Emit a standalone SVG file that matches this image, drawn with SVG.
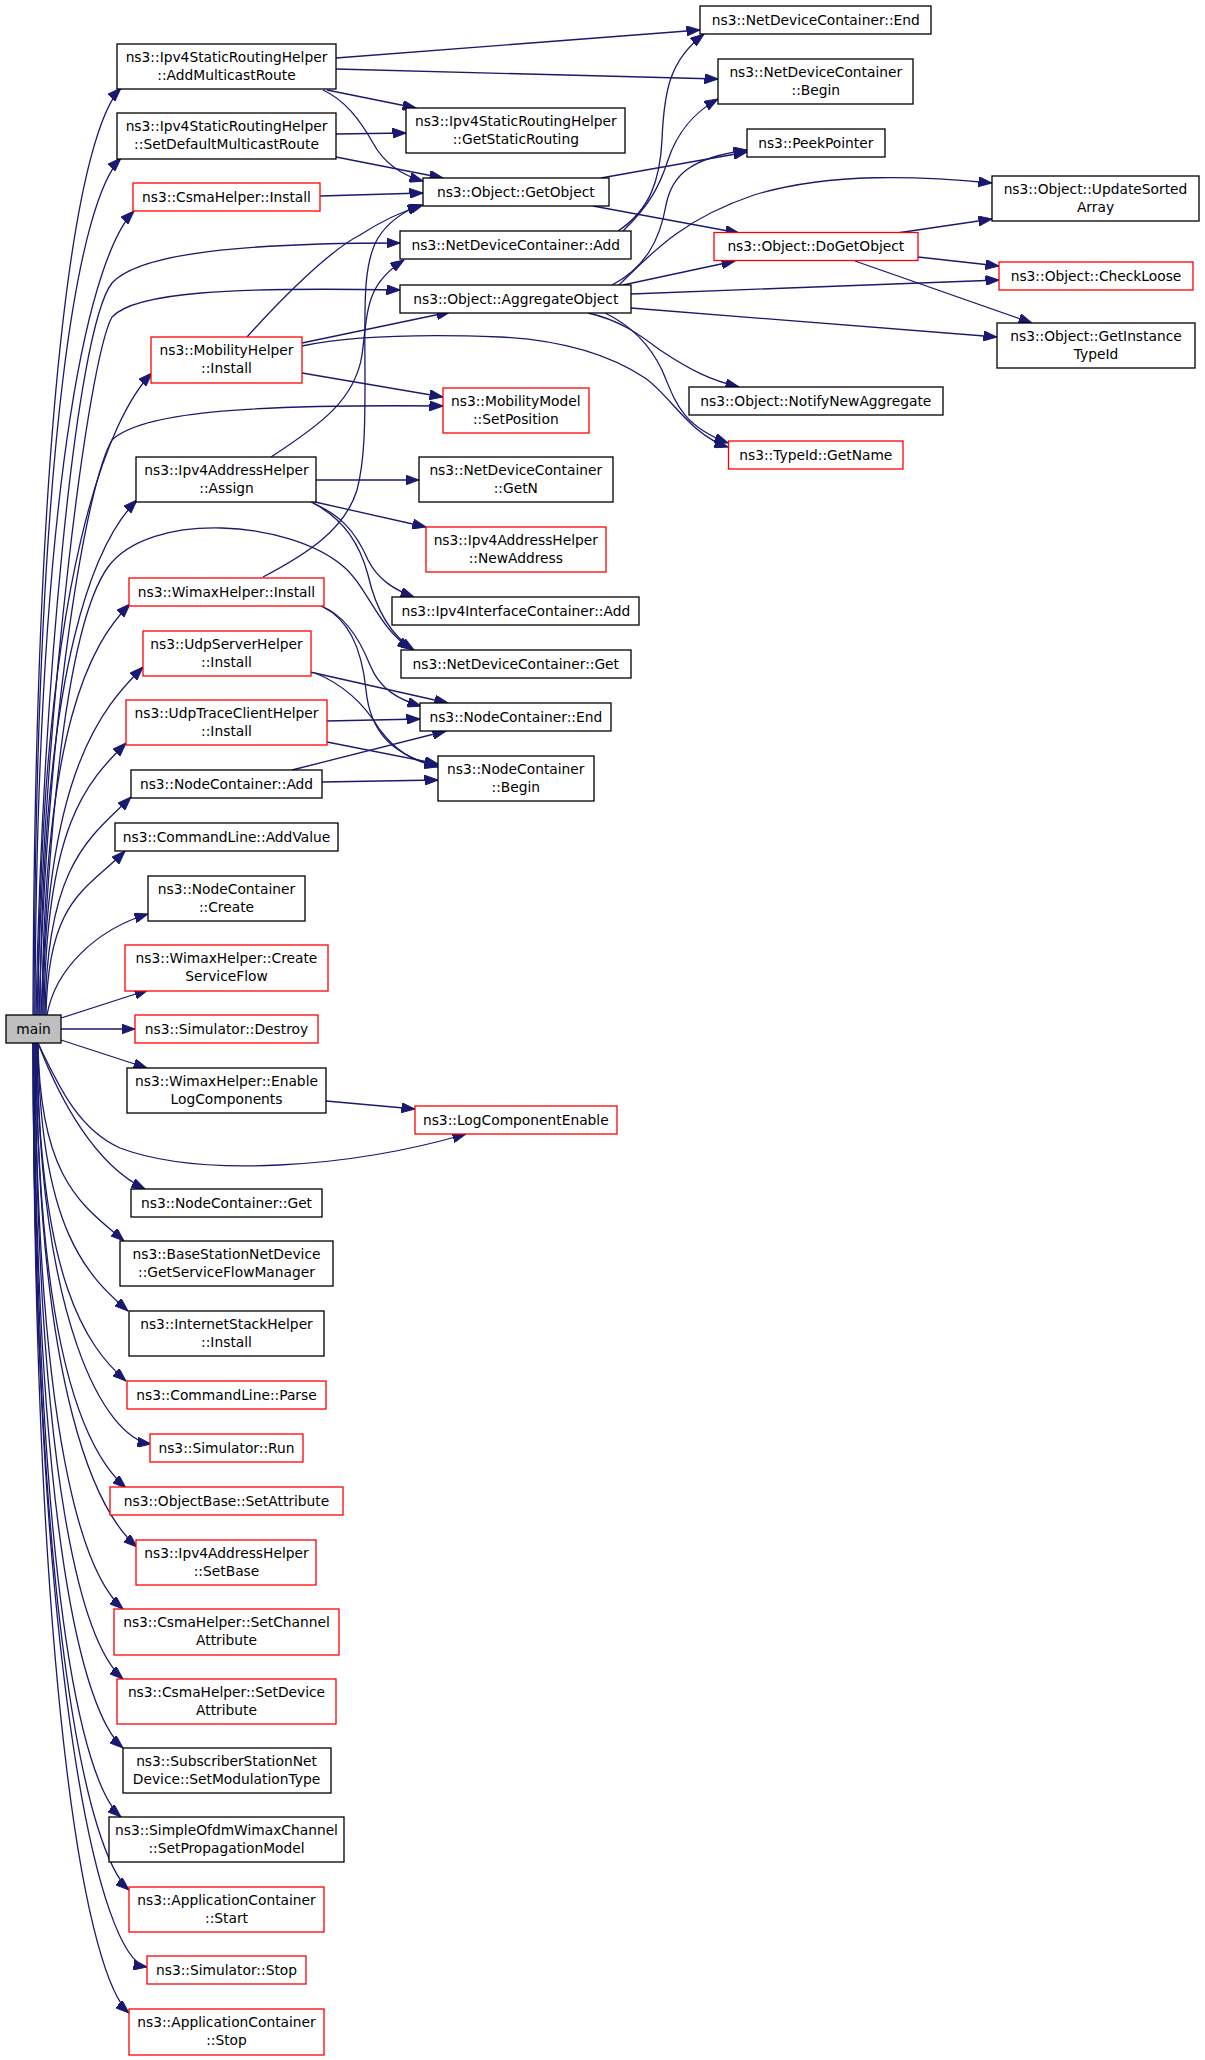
<svg xmlns="http://www.w3.org/2000/svg" width="1205" height="2060" viewBox="0 0 1205 2060">
<style>
.n rect{fill:#fff;stroke:#000;stroke-width:1.3}
.n.r rect{stroke:#f00}
.n.m rect{fill:#bfbfbf}
text{font-family:"DejaVu Sans","Liberation Sans",sans-serif;font-size:13.8px;text-anchor:middle;fill:#000}
#edges path{fill:none;stroke:#191970;stroke-width:1.3;marker-end:url(#a)}
</style>
<defs>
<marker id="a" markerWidth="14" markerHeight="10" refX="13.5" refY="5" orient="auto" markerUnits="userSpaceOnUse"><path d="M0,0 L13.5,5 L0,10 z" fill="#191970" stroke="#191970" stroke-width="1"/></marker>
</defs>
<rect x="0" y="0" width="1205" height="2060" fill="#fff"/>
<g id="edges">
<!-- main upward -->
<path d="M33,1015 C35,366 81,128 121,88"/>
<path d="M34,1015 C36,415 81,198 121,158"/>
<path d="M35,1015 C37,452 94,251 134,211"/>
<path d="M36,1015 C42,700 75,330 112,283 C140,252 250,243 400,243"/>
<path d="M37,1015 C45,700 88,360 112,317 C135,292 230,287 400,290"/>
<path d="M38,1015 C40,566 112,413 152,373"/>
<path d="M39,1015 C48,700 88,480 112,440 C140,413 240,404 443,406"/>
<path d="M40,1015 C42,655 97,540 137,500"/>
<path d="M41,1015 C50,800 70,620 108,567 C150,510 290,520 344,567 C368,588 378,628 411,649"/>
<path d="M42,1015 C44,727 90,644 130,604"/>
<path d="M43,1015 C45,771 103,707 143,667"/>
<path d="M44,1015 C46,825 86,783 126,743"/>
<path d="M45,1015 C47,862 91,837 131,797"/>
<path d="M46,1015 C48,900 85,891 125,851"/>
<path d="M47,1015 C55,970 95,930 148,914"/>
<!-- main right -->
<path d="M61,1018 L148,990"/>
<path d="M61,1029 L135,1029"/>
<path d="M61,1040 L147,1068"/>
<path d="M38,1043 C60,1090 80,1130 120,1148 C200,1178 350,1168 466,1134"/>
<!-- main downward -->
<path d="M38,1043 C60,1100 95,1165 145,1189"/>
<path d="M38,1043 C40,1182 84,1206 124,1241"/>
<path d="M38,1043 C40,1231 88,1276 128,1311"/>
<path d="M37,1043 C39,1280 86,1346 126,1381"/>
<path d="M37,1043 C39,1324 105,1438 151,1444"/>
<path d="M36,1043 C38,1354 86,1453 126,1488"/>
<path d="M36,1043 C38,1396 97,1512 137,1547"/>
<path d="M35,1043 C37,1439 83,1574 123,1609"/>
<path d="M35,1043 C37,1488 83,1644 123,1679"/>
<path d="M34,1043 C36,1537 83,1713 123,1748"/>
<path d="M34,1043 C36,1585 81,1782 121,1817"/>
<path d="M33,1043 C35,1636 89,1855 129,1890"/>
<path d="M33,1043 C35,1690 100,1960 147,1967"/>
<path d="M33,1043 C35,1722 89,1978 129,2013"/>
<!-- AddMulticastRoute -->
<path d="M336,58 L700,30"/>
<path d="M336,69 L718,79"/>
<path d="M327,90 L416,108"/>
<path d="M323,90 C345,100 360,120 373,143 C385,165 405,176 423,181"/>
<!-- SetDefaultMulticastRoute -->
<path d="M336,134 L406,133"/>
<path d="M336,157 L443,178"/>
<!-- CsmaHelper::Install -->
<path d="M320,196 L423,193"/>
<!-- MobilityHelper::Install -->
<path d="M247,337 C280,300 330,250 360,235 C380,222 400,212 423,205"/>
<path d="M302,343 L450,312"/>
<path d="M302,346 C350,336 420,334 500,337 C560,340 610,355 645,378 C670,395 690,435 728,447"/>
<path d="M302,373 L443,397"/>
<!-- Assign -->
<path d="M271,457 C320,425 355,400 362,355 C368,310 365,285 404,260"/>
<path d="M316,480 L419,480"/>
<path d="M315,502 L426,527"/>
<path d="M311,502 C340,515 355,530 368,560 C378,580 395,590 414,597"/>
<path d="M313,503 C345,520 360,545 368,575 C376,610 390,635 414,650"/>
<!-- WimaxHelper::Install -->
<path d="M263,577 C305,555 345,530 357,490 C365,460 365,420 365,380 C365,310 362,265 378,238 C388,222 402,212 421,205"/>
<path d="M321,606 C345,615 360,640 370,665 C380,690 400,700 421,706"/>
<path d="M323,607 C350,620 362,650 366,690 C370,730 390,755 438,766"/>
<!-- UdpServerHelper -->
<path d="M310,672 L448,703"/>
<path d="M315,673 C345,685 365,705 380,730 C395,750 410,760 438,767"/>
<!-- UdpTraceClientHelper -->
<path d="M327,721 L420,719"/>
<path d="M327,742 L438,764"/>
<!-- NodeContainer::Add -->
<path d="M292,770 L446,731"/>
<path d="M322,782 L438,780"/>
<!-- EnableLogComponents -->
<path d="M326,1101 L415,1109"/>
<!-- GetObject -->
<path d="M601,178 L747,152"/>
<path d="M593,206 L739,233"/>
<!-- NetDeviceContainer::Add -->
<path d="M618,231 C650,210 660,180 662,140 C664,90 670,60 704,34"/>
<path d="M623,231 C650,205 660,185 668,160 C678,130 695,112 718,99"/>
<!-- AggregateObject -->
<path d="M612,285 C645,268 660,240 666,205 C672,175 690,158 747,150"/>
<path d="M619,285 C650,255 680,220 754,195 C830,172 920,176 992,183"/>
<path d="M623,285 L735,261"/>
<path d="M631,294 L999,280"/>
<path d="M631,308 L997,337"/>
<path d="M588,313 C620,320 640,335 660,350 C690,370 710,380 739,387"/>
<path d="M605,313 C630,325 650,345 662,370 C675,400 680,425 728,443"/>
<!-- DoGetObject -->
<path d="M897,233 L992,219"/>
<path d="M918,257 L999,266"/>
<path d="M855,261 L1032,323"/>
</g>
<g id="node-main" class="n m"><rect x="6" y="1015" width="55" height="28"/><text x="33.5" y="1033.5">main</text></g>
<g id="node-addmc" class="n"><rect x="117" y="44" width="219" height="45"/><text x="226.5" y="61.8">ns3::Ipv4StaticRoutingHelper</text><text x="226.5" y="79.5">::AddMulticastRoute</text></g>
<g id="node-setdef" class="n"><rect x="117" y="113" width="219" height="46"/><text x="226.5" y="131.3">ns3::Ipv4StaticRoutingHelper</text><text x="226.5" y="149">::SetDefaultMulticastRoute</text></g>
<g id="node-csmainst" class="n r"><rect x="133" y="183" width="187" height="28"/><text x="226.5" y="201.5">ns3::CsmaHelper::Install</text></g>
<g id="node-mobh" class="n r"><rect x="151" y="337" width="151" height="46"/><text x="226.5" y="355.3">ns3::MobilityHelper</text><text x="226.5" y="373">::Install</text></g>
<g id="node-assign" class="n"><rect x="136" y="457" width="180" height="45"/><text x="226.5" y="474.8">ns3::Ipv4AddressHelper</text><text x="226.5" y="492.5">::Assign</text></g>
<g id="node-wimaxinst" class="n r"><rect x="129" y="578" width="195" height="28"/><text x="226.5" y="596.5">ns3::WimaxHelper::Install</text></g>
<g id="node-udpserver" class="n r"><rect x="143" y="631" width="168" height="45"/><text x="226.5" y="648.8">ns3::UdpServerHelper</text><text x="226.5" y="666.5">::Install</text></g>
<g id="node-udptrace" class="n r"><rect x="126" y="700" width="201" height="45"/><text x="226.5" y="717.8">ns3::UdpTraceClientHelper</text><text x="226.5" y="735.5">::Install</text></g>
<g id="node-ncadd" class="n"><rect x="131" y="770" width="191" height="28"/><text x="226.5" y="788.5">ns3::NodeContainer::Add</text></g>
<g id="node-addvalue" class="n"><rect x="115" y="823" width="223" height="28"/><text x="226.5" y="841.5">ns3::CommandLine::AddValue</text></g>
<g id="node-nccreate" class="n"><rect x="148" y="876" width="157" height="45"/><text x="226.5" y="893.8">ns3::NodeContainer</text><text x="226.5" y="911.5">::Create</text></g>
<g id="node-csf" class="n r"><rect x="125" y="945" width="203" height="46"/><text x="226.5" y="963.3">ns3::WimaxHelper::Create</text><text x="226.5" y="981">ServiceFlow</text></g>
<g id="node-destroy" class="n r"><rect x="135" y="1015" width="183" height="28"/><text x="226.5" y="1033.5">ns3::Simulator::Destroy</text></g>
<g id="node-enlog" class="n"><rect x="127" y="1068" width="199" height="45"/><text x="226.5" y="1085.8">ns3::WimaxHelper::Enable</text><text x="226.5" y="1103.5">LogComponents</text></g>
<g id="node-ncget" class="n"><rect x="131" y="1189" width="191" height="28"/><text x="226.5" y="1207.5">ns3::NodeContainer::Get</text></g>
<g id="node-bsnd" class="n"><rect x="120" y="1241" width="213" height="45"/><text x="226.5" y="1258.8">ns3::BaseStationNetDevice</text><text x="226.5" y="1276.5">::GetServiceFlowManager</text></g>
<g id="node-inet" class="n"><rect x="129" y="1311" width="195" height="45"/><text x="226.5" y="1328.8">ns3::InternetStackHelper</text><text x="226.5" y="1346.5">::Install</text></g>
<g id="node-parse" class="n r"><rect x="127" y="1381" width="199" height="28"/><text x="226.5" y="1399.5">ns3::CommandLine::Parse</text></g>
<g id="node-run" class="n r"><rect x="150" y="1434" width="153" height="28"/><text x="226.5" y="1452.5">ns3::Simulator::Run</text></g>
<g id="node-setattr" class="n r"><rect x="110" y="1487" width="233" height="28"/><text x="226.5" y="1505.5">ns3::ObjectBase::SetAttribute</text></g>
<g id="node-setbase" class="n r"><rect x="136" y="1540" width="180" height="45"/><text x="226.5" y="1557.8">ns3::Ipv4AddressHelper</text><text x="226.5" y="1575.5">::SetBase</text></g>
<g id="node-setchan" class="n r"><rect x="114" y="1609" width="225" height="46"/><text x="226.5" y="1627.3">ns3::CsmaHelper::SetChannel</text><text x="226.5" y="1645">Attribute</text></g>
<g id="node-setdev" class="n r"><rect x="117" y="1679" width="219" height="45"/><text x="226.5" y="1696.8">ns3::CsmaHelper::SetDevice</text><text x="226.5" y="1714.5">Attribute</text></g>
<g id="node-ssnd" class="n"><rect x="123" y="1748" width="208" height="45"/><text x="226.5" y="1765.8">ns3::SubscriberStationNet</text><text x="226.5" y="1783.5">Device::SetModulationType</text></g>
<g id="node-ofdm" class="n"><rect x="109" y="1817" width="235" height="45"/><text x="226.5" y="1834.8">ns3::SimpleOfdmWimaxChannel</text><text x="226.5" y="1852.5">::SetPropagationModel</text></g>
<g id="node-appstart" class="n r"><rect x="129" y="1887" width="195" height="45"/><text x="226.5" y="1904.8">ns3::ApplicationContainer</text><text x="226.5" y="1922.5">::Start</text></g>
<g id="node-simstop" class="n r"><rect x="147" y="1956" width="159" height="28"/><text x="226.5" y="1974.5">ns3::Simulator::Stop</text></g>
<g id="node-appstop" class="n r"><rect x="129" y="2009" width="195" height="46"/><text x="226.5" y="2027.3">ns3::ApplicationContainer</text><text x="226.5" y="2045">::Stop</text></g>
<g id="node-getstatic" class="n"><rect x="406" y="108" width="219" height="45"/><text x="515.8" y="125.8">ns3::Ipv4StaticRoutingHelper</text><text x="515.8" y="143.5">::GetStaticRouting</text></g>
<g id="node-getobject" class="n"><rect x="423" y="178" width="186" height="28"/><text x="515.8" y="196.5">ns3::Object::GetObject</text></g>
<g id="node-ndcadd" class="n"><rect x="400" y="231" width="231" height="28"/><text x="515.8" y="249.5">ns3::NetDeviceContainer::Add</text></g>
<g id="node-aggr" class="n"><rect x="400" y="285" width="231" height="28"/><text x="515.8" y="303.5">ns3::Object::AggregateObject</text></g>
<g id="node-setpos" class="n r"><rect x="443" y="388" width="146" height="45"/><text x="515.8" y="405.8">ns3::MobilityModel</text><text x="515.8" y="423.5">::SetPosition</text></g>
<g id="node-getn" class="n"><rect x="419" y="457" width="194" height="45"/><text x="515.8" y="474.8">ns3::NetDeviceContainer</text><text x="515.8" y="492.5">::GetN</text></g>
<g id="node-newaddr" class="n r"><rect x="426" y="527" width="180" height="45"/><text x="515.8" y="544.8">ns3::Ipv4AddressHelper</text><text x="515.8" y="562.5">::NewAddress</text></g>
<g id="node-ifadd" class="n"><rect x="392" y="597" width="247" height="28"/><text x="515.8" y="615.5">ns3::Ipv4InterfaceContainer::Add</text></g>
<g id="node-ndcget" class="n"><rect x="401" y="650" width="230" height="28"/><text x="515.8" y="668.5">ns3::NetDeviceContainer::Get</text></g>
<g id="node-ncend" class="n"><rect x="420" y="703" width="191" height="28"/><text x="515.8" y="721.5">ns3::NodeContainer::End</text></g>
<g id="node-ncbegin" class="n"><rect x="438" y="756" width="156" height="45"/><text x="515.8" y="773.8">ns3::NodeContainer</text><text x="515.8" y="791.5">::Begin</text></g>
<g id="node-logce" class="n r"><rect x="415" y="1106" width="202" height="28"/><text x="515.8" y="1124.5">ns3::LogComponentEnable</text></g>
<g id="node-ndcend" class="n"><rect x="700" y="6" width="231" height="28"/><text x="815.8" y="24.5">ns3::NetDeviceContainer::End</text></g>
<g id="node-ndcbegin" class="n"><rect x="718" y="59" width="195" height="45"/><text x="815.8" y="76.8">ns3::NetDeviceContainer</text><text x="815.8" y="94.5">::Begin</text></g>
<g id="node-peek" class="n"><rect x="747" y="129" width="138" height="28"/><text x="815.8" y="147.5">ns3::PeekPointer</text></g>
<g id="node-dogetobj" class="n r"><rect x="714" y="232.5" width="204" height="28"/><text x="815.8" y="251">ns3::Object::DoGetObject</text></g>
<g id="node-notify" class="n"><rect x="689" y="387" width="254" height="28"/><text x="815.8" y="405.5">ns3::Object::NotifyNewAggregate</text></g>
<g id="node-getname" class="n r"><rect x="728.5" y="441" width="174.5" height="28"/><text x="815.8" y="459.5">ns3::TypeId::GetName</text></g>
<g id="node-updsorted" class="n"><rect x="992" y="176" width="207" height="45"/><text x="1095.5" y="193.8">ns3::Object::UpdateSorted</text><text x="1095.5" y="211.5">Array</text></g>
<g id="node-checkloose" class="n r"><rect x="999" y="262" width="194" height="28"/><text x="1096" y="280.5">ns3::Object::CheckLoose</text></g>
<g id="node-getinst" class="n"><rect x="997" y="323" width="198" height="45"/><text x="1096" y="340.8">ns3::Object::GetInstance</text><text x="1096" y="358.5">TypeId</text></g>
</svg>
